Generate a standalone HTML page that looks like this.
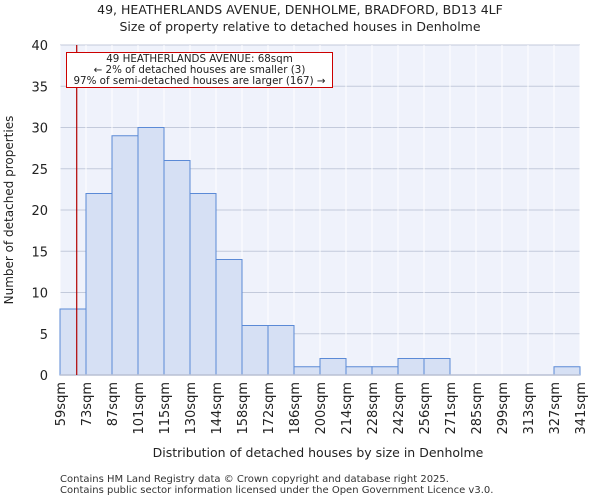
<!DOCTYPE html>
<html><head><meta charset="utf-8"><style>
body{margin:0;background:#fff;font-family:"DejaVu Sans","Liberation Sans",sans-serif;}
</style></head><body>
<svg id="c" width="600" height="500" xmlns="http://www.w3.org/2000/svg" font-family="DejaVu Sans, Liberation Sans, sans-serif">
<text x="300" y="14" text-anchor="middle" font-size="12.5" fill="#222">49, HEATHERLANDS AVENUE, DENHOLME, BRADFORD, BD13 4LF</text>
<text x="300" y="31" text-anchor="middle" font-size="12.5" fill="#222">Size of property relative to detached houses in Denholme</text>
<rect x="60" y="45" width="520" height="330" fill="#eff2fb"/>
<g id="grid"></g><g id="bars"></g><g id="axes"></g>
<text transform="translate(13,210) rotate(-90)" text-anchor="middle" font-size="12" fill="#222">Number of detached properties</text>
<text x="318" y="457" text-anchor="middle" font-size="12.5" fill="#222">Distribution of detached houses by size in Denholme</text>
<text x="60" y="482" font-size="10" fill="#333">Contains HM Land Registry data © Crown copyright and database right 2025.</text>
<text x="60" y="493" font-size="10" fill="#333">Contains public sector information licensed under the Open Government Licence v3.0.</text>
</svg>
<script>
const binLabels=["59sqm","73sqm","87sqm","101sqm","115sqm","130sqm","144sqm","158sqm","172sqm","186sqm","200sqm","214sqm","228sqm","242sqm","256sqm","271sqm","285sqm","299sqm","313sqm","327sqm","341sqm"];
const binEdges=[59,73,87,101,115,130,144,158,172,186,200,214,228,242,256,271,285,299,313,327,341];
const counts=[8,22,29,30,26,22,14,6,6,1,2,1,1,2,2,0,0,0,0,1];
const yTicks=[0,5,10,15,20,25,30,35,40];
const subjectSize=68;
const NS="http://www.w3.org/2000/svg";
const X0=60,X1=580,Y0=375,Y1=45,YMAX=40;
const bw=(X1-X0)/counts.length;
const xi=i=>X0+i*bw;
const y=v=>Y0-(v/YMAX)*(Y0-Y1);
function xv(v){for(let i=0;i<binEdges.length-1;i++){if(v<=binEdges[i+1])return xi(i)+(v-binEdges[i])/(binEdges[i+1]-binEdges[i])*bw;}return X1;}
function mk(tag,at,parent){const e=document.createElementNS(NS,tag);for(const k in at)e.setAttribute(k,at[k]);document.getElementById(parent).appendChild(e);return e;}
yTicks.forEach(t=>{
 const l=mk("line",{x1:X0,x2:X1,y1:y(t),y2:y(t),stroke:"#c3cadb","stroke-width":1},"grid");
 
 
 const tx=mk("text",{x:X0-12,y:y(t)+5,"text-anchor":"end","font-size":13,fill:"#222"},"axes");
 tx.textContent=t;
 
 
});
for(let i=0;i<=counts.length;i++){
 const l=mk("line",{x1:xi(i),x2:xi(i),y1:Y1,y2:Y0,stroke:"#ffffff","stroke-width":1},"grid");
 
 
}
counts.forEach((c,i)=>{
 if(c<=0)return;
 const r=mk("rect",{x:xi(i),y:y(c),width:bw,height:Y0-y(c),fill:"#d6e0f4",stroke:"#5b8ad6","stroke-width":1},"bars");
 
 
});
binLabels.forEach((lb,i)=>{
 const t=mk("text",{transform:`translate(${xi(i)+5},382) rotate(-90)`,"text-anchor":"end","font-size":13,fill:"#222"},"axes");
 t.textContent=lb;
 
 
});
const ax=mk("line",{x1:X0,x2:X1,y1:Y0,y2:Y0,stroke:"#b8c0d4","stroke-width":1.5},"axes");


const sx=xv(subjectSize);
const ml=mk("line",{x1:sx,x2:sx,y1:Y1,y2:Y0,stroke:"#b00000","stroke-width":1.2},"axes");


const box=mk("rect",{x:66.5,y:52.5,width:266,height:35,fill:"#fff",stroke:"#cc0000","stroke-width":1},"axes");


["49 HEATHERLANDS AVENUE: 68sqm","← 2% of detached houses are smaller (3)","97% of semi-detached houses are larger (167) →"].forEach((s,k)=>{
 const t=mk("text",{x:199.5,y:62+k*11,"text-anchor":"middle","font-size":10.3,fill:"#222"},"axes");
 t.textContent=s;
 
 
});
</script>
</body></html>
